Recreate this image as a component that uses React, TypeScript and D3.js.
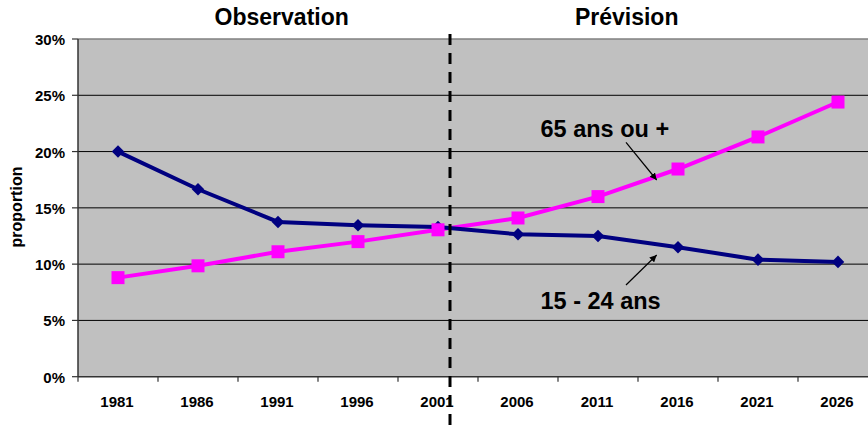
import React from "react";
import * as d3 from "d3";

const years = ["1981", "1986", "1991", "1996", "2001", "2006", "2011", "2016", "2021", "2026"];
const youth = [20.0, 16.65, 13.75, 13.45, 13.3, 12.65, 12.5, 11.5, 10.4, 10.2];
const seniors = [8.8, 9.85, 11.1, 12.0, 13.05, 14.1, 16.0, 18.45, 21.3, 24.4];
const yTicks = [0, 5, 10, 15, 20, 25, 30];
const periodTitles = ["Observation", "Prévision"];
const seriesLabels = ["65 ans ou +", "15 - 24 ans"];

const W = 868;
const H = 425;
const left = 78;
const top = 39;
const bottom = 376.7;
const right = 878;
const font = "'Liberation Sans', Arial, sans-serif";

export default function App() {
  const x = d3.scaleBand<string>().domain(years).range([left, right]).padding(0);
  const y = d3.scaleLinear().domain([0, 30]).range([bottom, top]);
  const bw = x.bandwidth();
  const cx = (yr: string) => (x(yr) as number) + bw / 2;
  const line = d3
    .line<number>()
    .x((_, i) => cx(years[i]))
    .y((d) => y(d));
  const splitX = (x("2001") as number) + bw * 0.65;
  const diamond = d3.symbol().type(d3.symbolDiamond2).size(100)();

  return (
    <svg
      width={W}
      height={H}
      style={{ position: "absolute", left: 0, top: 0, display: "block" }}
      fontFamily={font}
      fontWeight="bold"
    >
      <defs>
        <marker id="arr" viewBox="0 0 10 10" refX="10" refY="5" markerWidth="7" markerHeight="7" orient="auto" markerUnits="userSpaceOnUse">
          <path d="M0,0 L10,5 L0,10 z" fill="#000" />
        </marker>
      </defs>
      <rect x={0} y={0} width={W} height={H} fill="#fff" />
      <rect x={left} y={top} width={right - left} height={bottom - top} fill="#c0c0c0" />
      {yTicks.slice(1, -1).map((t) => (
        <line key={t} x1={left} x2={right} y1={y(t)} y2={y(t)} stroke="#000" strokeWidth={1} />
      ))}
      <line x1={left} x2={right} y1={top} y2={top} stroke="#808080" strokeWidth={1.5} />
      <line x1={left} x2={left} y1={top} y2={bottom} stroke="#333" strokeWidth={1.5} />
      <line x1={left} x2={right} y1={bottom} y2={bottom} stroke="#333" strokeWidth={1.5} />
      {yTicks.map((t) => (
        <g key={t}>
          <line x1={left - 6} x2={left} y1={y(t)} y2={y(t)} stroke="#333" strokeWidth={1.2} />
          <text x={65} y={y(t) + 6} textAnchor="end" fontSize={15} fill="#000">
            {t}%
          </text>
        </g>
      ))}
      {years.map((yr) => (
        <g key={yr}>
          <line x1={x(yr) as number} x2={x(yr) as number} y1={bottom} y2={bottom + 5} stroke="#333" strokeWidth={1.2} />
          <text x={cx(yr) - 1} y={406.5} textAnchor="middle" fontSize={15} fill="#000">
            {yr}
          </text>
        </g>
      ))}
      <text
        transform={`translate(21.5,207) rotate(-90)`}
        textAnchor="middle"
        fontSize={16}
        fill="#000"
      >
        proportion
      </text>
      <path d={line(seniors) || ""} fill="none" stroke="#ff00ff" strokeWidth={4} />
      <path d={line(youth) || ""} fill="none" stroke="#000080" strokeWidth={4} />
      {youth.map((v, i) => (
        <path key={"d" + i} d={diamond || ""} transform={`translate(${cx(years[i])},${y(v)})`} fill="#000080" />
      ))}
      {seniors.map((v, i) => (
        <rect key={"s" + i} x={cx(years[i]) - 6.5} y={y(v) - 6.5} width={13} height={13} fill="#ff00ff" />
      ))}
      <line x1={splitX} x2={splitX} y1={34} y2={H} stroke="#000" strokeWidth={3} strokeDasharray="11 8" />
      <text x={281.7} y={25} textAnchor="middle" fontSize={23} fill="#000">
        {periodTitles[0]}
      </text>
      <text x={626.7} y={25} textAnchor="middle" fontSize={23} fill="#000">
        {periodTitles[1]}
      </text>
      <text x={540.5} y={136.7} fontSize={23.5} fill="#000">
        {seriesLabels[0]}
      </text>
      <line x1={626} y1={142.3} x2={656.7} y2={180} stroke="#000" strokeWidth={1.2} markerEnd="url(#arr)" />
      <text x={540.5} y={309.3} fontSize={23.5} fill="#000">
        {seriesLabels[1]}
      </text>
      <line x1={626} y1={285} x2={656.7} y2={255} stroke="#000" strokeWidth={1.2} markerEnd="url(#arr)" />
    </svg>
  );
}
